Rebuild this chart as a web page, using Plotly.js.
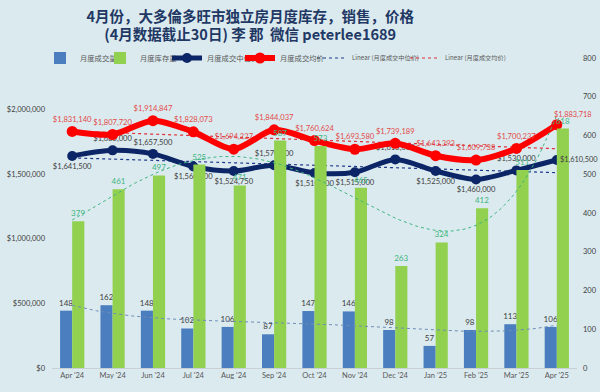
<!DOCTYPE html>
<html>
<head>
<meta charset="utf-8">
<script src="https://cdn.plot.ly/plotly-3.0.1.min.js"></script>
<style>html,body{margin:0;padding:0;background:#dbeaef;}#chart{width:600px;height:392px;}</style>
</head>
<body>
<div id="chart"></div>
<script>
const months = ["Apr '24","May '24","Jun '24","Jul '24","Aug '24","Sep '24","Oct '24","Nov '24","Dec '24","Jan '25","Feb '25","Mar '25","Apr '25"];
const salesCount = [148,162,148,102,106,87,147,146,98,57,98,113,106];
const inventory = [379,461,497,525,471,587,573,465,263,324,412,511,618];
const medianPrice = [1641500,1685000,1657500,1560000,1524750,1570000,1510000,1515000,1615000,1525000,1460000,1530000,1610500];
const avgPrice = [1831140,1807720,1914847,1828073,1694227,1844037,1760624,1693580,1739189,1643393,1609738,1700237,1883718];
const medianLabelPos = ['bottom center','top center','top center','bottom center','bottom center','top center','bottom center','bottom center','top center','bottom center','bottom center','top center','middle right'];
const trendDegree = 4;

const idx = months.map((_, i) => i);
const last = idx.length - 1;

function linFit(ys) {
  const n = ys.length; let sx=0, sy=0, sxx=0, sxy=0;
  ys.forEach((y,i)=>{sx+=i;sy+=y;sxx+=i*i;sxy+=i*y;});
  const b = (n*sxy - sx*sy)/(n*sxx - sx*sx); const a = (sy - b*sx)/n;
  return x => a + b*x;
}
function polyFit(ys, deg) {
  const n = ys.length, c = (n-1)/2;
  const m = deg+1;
  const A = Array.from({length:m},()=>new Array(m+1).fill(0));
  ys.forEach((y,i)=>{
    const t = (i-c)/c;
    const p = []; for(let k=0;k<m;k++) p.push(Math.pow(t,k));
    for(let r=0;r<m;r++){ for(let s=0;s<m;s++) A[r][s]+=p[r]*p[s]; A[r][m]+=p[r]*y; }
  });
  for(let col=0;col<m;col++){
    let piv=col; for(let r=col+1;r<m;r++) if(Math.abs(A[r][col])>Math.abs(A[piv][col])) piv=r;
    [A[col],A[piv]]=[A[piv],A[col]];
    for(let r=0;r<m;r++){ if(r===col) continue; const f=A[r][col]/A[col][col]; for(let s=col;s<=m;s++) A[r][s]-=f*A[col][s]; }
  }
  const coef = A.map((row,r)=>row[m]/row[r]);
  return x => { const t=(x-c)/c; let v=0; for(let k=0;k<m;k++) v+=coef[k]*Math.pow(t,k); return v; };
}
const fine = []; for (let x=0; x<=last+0.0001; x+=0.1) fine.push(+x.toFixed(2));
const medLin = linFit(medianPrice), avgLin = linFit(avgPrice);
const invPoly = polyFit(inventory, trendDegree), salesPoly = polyFit(salesCount, trendDegree);
const fmt = v => '$' + v.toLocaleString('en-US');

const F = "Lato, 'Noto Sans CJK SC', sans-serif";
const lgFont = {size:7.3, color:'#595959', family:"'Noto Sans CJK SC', Lato, sans-serif"};
const traces = [
  {type:'bar', name:'月度成交量', x:idx, y:salesCount, yaxis:'y2', marker:{color:'#4a7ebf'},
   text:salesCount.map(String), textposition:'outside', constraintext:'none', cliponaxis:false,
   textfont:{size:8, color:'#404040', family:F}, legend:'legend'},
  {type:'bar', name:'月度库存量', x:idx, y:inventory, yaxis:'y2', marker:{color:'#92d050'},
   text:inventory.map(String), textposition:'outside', constraintext:'none', cliponaxis:false,
   textfont:{size:8, color:'#3fb580', family:F}, legend:'legend2'},
  {type:'scatter', mode:'lines', x:fine, y:fine.map(invPoly), yaxis:'y2', showlegend:false,
   line:{color:'#3fb580', width:1, dash:'dot'}, hoverinfo:'skip'},
  {type:'scatter', mode:'lines', x:fine, y:fine.map(salesPoly), yaxis:'y2', showlegend:false,
   line:{color:'#6d8db5', width:1, dash:'dot'}, hoverinfo:'skip'},
  {type:'scatter', mode:'lines', name:'Linear (月度成交中位价)', x:[0,last], y:[medLin(0),medLin(last)],
   line:{color:'#1f3a8a', width:1.2, dash:'dot'}, legend:'legend5'},
  {type:'scatter', mode:'lines', name:'Linear (月度成交均价)', x:[0,last], y:[avgLin(0),avgLin(last)],
   line:{color:'#e0303a', width:1.2, dash:'dot'}, legend:'legend6'},
  {type:'scatter', mode:'lines+markers+text', name:'月度成交中位价', x:idx, y:medianPrice,
   line:{color:'#0b2566', width:5, shape:'spline', smoothing:0.8}, marker:{size:10, color:'#0b2566'},
   text:medianPrice.map((v,i)=> i===last ? '' : fmt(v)), textposition:medianLabelPos, cliponaxis:false,
   textfont:{size:7.6, color:'#404040', family:F}, legend:'legend3'},
  {type:'scatter', mode:'lines+markers+text', name:'月度成交均价', x:idx, y:avgPrice,
   line:{color:'#ff0000', width:6, shape:'spline', smoothing:0.8}, marker:{size:11, color:'#ff0000'},
   text:avgPrice.map((v,i)=> i===last ? '' : fmt(v)), textposition:'top center', cliponaxis:false,
   textfont:{size:7.6, color:'#e24a4a', family:F}, legend:'legend4'}
];

const L = 52, W = 525;
const lg = (px, fs) => ({orientation:'h', x:(px-L)/W, xanchor:'left', y:1.0, yanchor:'middle',
  bgcolor:'rgba(0,0,0,0)', font:Object.assign({}, lgFont, fs?{size:fs}:{}), itemwidth:30});
const layout = {
  width:600, height:392,
  paper_bgcolor:'#dbeaef', plot_bgcolor:'rgba(0,0,0,0)',
  margin:{l:L, r:23, t:58, b:24},
  font:{family:F, color:'#595959'},
  barmode:'group', bargap:0.4, bargroupgap:0,
  title:{text:'4月份，大多倫多旺市独立房月度库存，销售，价格<br>(4月数据截止30日) 李 郡  微信 peterlee1689',
    font:{family:"'Noto Sans CJK SC', sans-serif", size:14.5, color:'#1f3864', weight:'bold'},
    xref:'container', x:0.417, xanchor:'center', yref:'container', y:0.945, yanchor:'middle'},
  xaxis:{range:[-0.5,12.5], tickvals:idx, ticktext:months, showgrid:false, zeroline:false,
    showline:true, linecolor:'#c8d0d4', ticks:'', tickfont:{size:7.5, color:'#595959'}},
  yaxis:{range:[0,2400000], tickvals:[0,500000,1000000,1500000,2000000], tickformat:'$,.0f',
    showgrid:false, zeroline:false, tickfont:{size:7.5, color:'#404040'}, ticklabelstandoff:6},
  yaxis2:{range:[0,800], dtick:100, overlaying:'y', side:'right', showgrid:false, zeroline:false,
    tickfont:{size:7.5, color:'#404040'}, ticklabelstandoff:5},
  legend:lg(40), legend2:lg(100), legend3:lg(167), legend4:lg(240), legend5:lg(312, 6.2), legend6:lg(405, 6.2),
  showlegend:true,
  annotations:[
    {x:last, y:medianPrice[last], xref:'x', yref:'y', text:fmt(medianPrice[last]), showarrow:false,
     xanchor:'left', yanchor:'middle', xshift:2, borderpad:0, font:{size:7.4, color:'#404040', family:F}},
    {x:last, y:avgPrice[last], xref:'x', yref:'y', text:fmt(avgPrice[last]), showarrow:false,
     xanchor:'left', yanchor:'bottom', xshift:-4, yshift:5, borderpad:0, font:{size:7.4, color:'#e24a4a', family:F}}
  ]
};
Plotly.newPlot('chart', traces, layout, {displayModeBar:false, staticPlot:true});
</script>
</body>
</html>
